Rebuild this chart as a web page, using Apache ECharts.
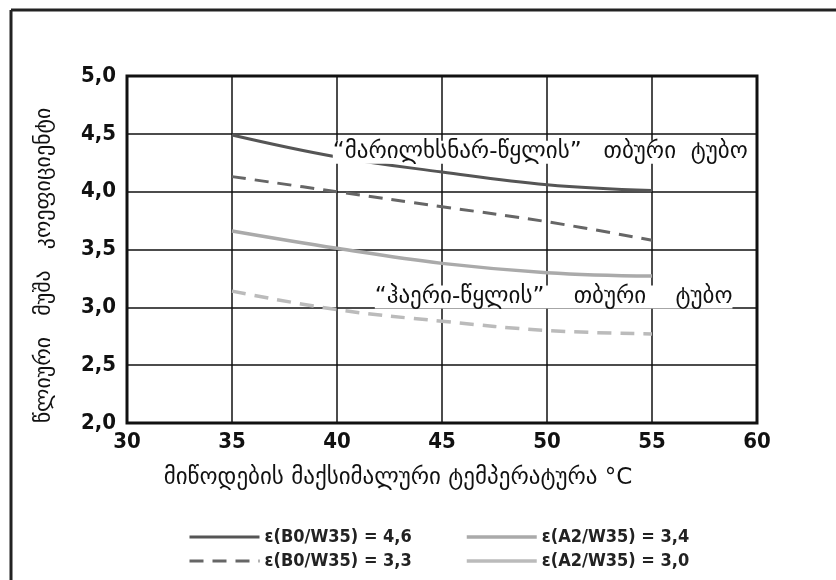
<!DOCTYPE html>
<html>
<head>
<meta charset="utf-8">
<script src="https://cdn.jsdelivr.net/npm/echarts@6/dist/echarts.min.js"></script>
<style>
  html, body { margin: 0; padding: 0; background: #fff; }
  #chart { width: 836px; height: 580px; }
</style>
</head>
<body>
<div id="chart"></div>
<script>
// მონაცემები
const temps = [35, 40, 45, 50, 55]
const brine46 = [4.49, 4.30, 4.17, 4.06, 4.01]
const brine33 = [4.13, 4.00, 3.87, 3.74, 3.58]
const air34 = [3.66, 3.51, 3.38, 3.30, 3.27]
const air30 = [3.14, 2.98, 2.88, 2.80, 2.77]
const seriesNames = ['ε(B0/W35) = 4,6', 'ε(B0/W35) = 3,3', 'ε(A2/W35) = 3,4', 'ε(A2/W35) = 3,0']

const toPairs = (ys) => temps.map((t, i) => [t, ys[i]])
const comma = (v) => v.toFixed(1).replace('.', ',')

const tickFont = { fontFamily: 'DejaVu Sans Condensed', fontSize: 22, fontWeight: 'bold', color: '#111' }
const legendText = { fontFamily: 'DejaVu Sans Condensed', fontSize: 18, fontWeight: 'bold', color: '#222' }
const noteFont = { fontFamily: 'DejaVu Sans', fontSize: 23, color: '#111' }

const option = {
  animation: false,
  backgroundColor: '#fff',
  grid: { left: 127, right: 79, top: 76, bottom: 157 },
  xAxis: {
    type: 'value',
    min: 30,
    max: 60,
    interval: 5,
    name: 'მიწოდების მაქსიმალური ტემპერატურა °C',
    nameLocation: 'middle',
    nameGap: 44,
    nameTextStyle: { fontFamily: 'DejaVu Sans', fontSize: 23, color: '#111', padding: [0, 88, 0, 0] },
    axisLine: { show: false },
    axisTick: { show: false },
    axisLabel: Object.assign({ margin: 8 }, tickFont),
    splitLine: { lineStyle: { color: '#111', width: 1.5 } }
  },
  yAxis: {
    type: 'value',
    min: 2,
    max: 5,
    interval: 0.5,
    name: 'წლიური   მუშა   კოეფიციენტი',
    nameLocation: 'middle',
    nameGap: 72,
    nameTextStyle: { fontFamily: 'DejaVu Sans', fontSize: 22, color: '#111', padding: [0, 32, 0, 0] },
    axisLine: { show: false },
    axisTick: { show: false },
    axisLabel: Object.assign({ margin: 11, formatter: comma }, tickFont),
    splitLine: { lineStyle: { color: '#111', width: 1.5 } }
  },
  legend: [
    {
      orient: 'vertical',
      left: 183,
      top: 523,
      itemWidth: 70,
      itemHeight: 14,
      itemGap: 6,
      itemStyle: { opacity: 0 },
      lineStyle: { width: 3 },
      textStyle: legendText,
      data: [seriesNames[0], seriesNames[1]]
    },
    {
      orient: 'vertical',
      left: 460,
      top: 523,
      itemWidth: 70,
      itemHeight: 14,
      itemGap: 6,
      itemStyle: { opacity: 0 },
      lineStyle: { width: 3.5 },
      textStyle: legendText,
      data: [seriesNames[2], { name: seriesNames[3], lineStyle: { type: 'solid', width: 3.5 } }]
    }
  ],
  graphic: [
    // ჩარჩო
    { type: 'line', shape: { x1: 11, y1: 10, x2: 836, y2: 10 }, style: { stroke: '#222', lineWidth: 3 } },
    { type: 'line', shape: { x1: 11, y1: 10, x2: 11, y2: 580 }, style: { stroke: '#222', lineWidth: 3 } },
    { type: 'rect', shape: { x: 127, y: 76, width: 630, height: 347 }, style: { fill: 'none', stroke: '#111', lineWidth: 3 }, z: 10 }
  ],
  series: [
    {
      name: seriesNames[0],
      type: 'line',
      smooth: 0.4,
      symbol: 'none',
      color: '#555',
      lineStyle: { color: '#555', width: 3 },
      data: toPairs(brine46),
      markPoint: {
        symbol: 'circle',
        symbolSize: 0,
        label: Object.assign({
          show: true,
          position: 'right',
          distance: 0,
          formatter: '“მარილხსნარ-წყლის”   თბური  ტუბო',
          backgroundColor: '#fff'
        }, noteFont),
        data: [{ coord: [39.8, 4.34] }]
      }
    },
    {
      name: seriesNames[1],
      type: 'line',
      smooth: 0.4,
      symbol: 'none',
      color: '#666',
      lineStyle: { color: '#666', width: 3, type: [14, 9] },
      data: toPairs(brine33)
    },
    {
      name: seriesNames[2],
      type: 'line',
      smooth: 0.4,
      symbol: 'none',
      color: '#aaa',
      lineStyle: { color: '#aaa', width: 3.5 },
      data: toPairs(air34),
      markPoint: {
        symbol: 'circle',
        symbolSize: 0,
        label: Object.assign({
          show: true,
          position: 'right',
          distance: 0,
          formatter: '“ჰაერი-წყლის”    თბური    ტუბო',
          backgroundColor: '#fff'
        }, noteFont),
        data: [{ coord: [41.8, 3.09] }]
      }
    },
    {
      name: seriesNames[3],
      type: 'line',
      smooth: 0.4,
      symbol: 'none',
      color: '#bbb',
      lineStyle: { color: '#bbb', width: 3.5, type: [14, 9] },
      data: toPairs(air30)
    }
  ]
}

const myChart = echarts.init(document.querySelector('#chart'))
myChart.setOption(option)
</script>
</body>
</html>
